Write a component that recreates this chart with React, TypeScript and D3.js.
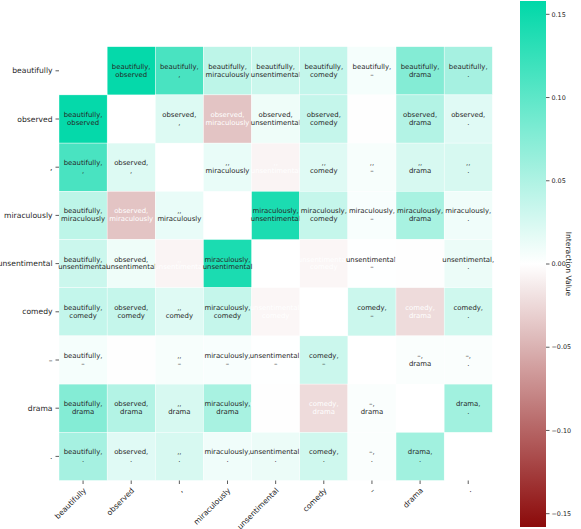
import React from "react";
import * as d3 from "d3";

const tokens = ["beautifully", "observed", ",", "miraculously", "unsentimental", "comedy", "–", "drama", "."];

// symmetric interaction matrix (null on the diagonal)
const row0 = [null, 0.155, 0.113, 0.041, 0.032, 0.037, 0.006, 0.076, 0.055];
const row1 = [0.155, null, 0.021, -0.038, 0.010, 0.036, -0.0008, 0.047, 0.019];
const row2 = [0.113, 0.021, null, 0.0136, -0.007, 0.020, 0.005, 0.025, 0.025];
const row3 = [0.041, -0.038, 0.0136, null, 0.141, 0.036, 0.0045, 0.054, 0.0093];
const row4 = [0.032, 0.010, -0.007, 0.141, null, -0.006, 0.0008, -0.0008, 0.012];
const row5 = [0.037, 0.036, 0.020, 0.036, -0.006, null, 0.032, -0.023, 0.030];
const row6 = [0.006, -0.0008, 0.005, 0.0045, 0.0008, 0.032, null, 0.003, 0.003];
const row7 = [0.076, 0.047, 0.025, 0.054, -0.0008, -0.023, 0.003, null, 0.058];
const row8 = [0.055, 0.019, 0.025, 0.0093, 0.012, 0.030, 0.003, 0.058, null];
const matrix = [row0, row1, row2, row3, row4, row5, row6, row7, row8];

const colorbarTicks = [0.15, 0.1, 0.05, 0, -0.05, -0.1, -0.15];
const vmax = 0.158;

const W = 581;
const H = 529;
const FONT = "DejaVu Sans";

export default function App() {
  const x = d3.scaleBand<string>().domain(tokens).range([59, 492.3]);
  const y = d3.scaleBand<string>().domain(tokens).range([46.7, 480.5]);
  const color = d3
    .scaleLinear<string>()
    .domain([-vmax, 0, vmax])
    .range(["#8b0a0a", "#ffffff", "#00d8a8"])
    .interpolate(d3.interpolateRgb);
  const cbY = d3.scaleLinear().domain([vmax, -vmax]).range([1, 527]);
  const fmt = d3.format(".2f");
  const bw = x.bandwidth();
  const bh = y.bandwidth();

  const cells: any[] = [];
  matrix.forEach((row, i) => {
    row.forEach((v, j) => {
      if (v === null) return;
      const a = tokens[Math.min(i, j)];
      const b = tokens[Math.max(i, j)];
      const cx = (x(tokens[j]) as number) + bw / 2;
      const cy = (y(tokens[i]) as number) + bh / 2;
      const tc = (v as number) < 0 ? "#ffffff" : "#262626";
      cells.push(
        <g key={`${i}-${j}`}>
          <rect
            x={x(tokens[j])}
            y={y(tokens[i])}
            width={bw}
            height={bh}
            fill={color(v as number)}
            stroke="#ffffff"
            strokeWidth={0.4}
          />
          <text x={cx} y={cy - 2.1} textAnchor="middle" fontSize={6.9} fill={tc} fontFamily={FONT}>
            {`${a},`}
          </text>
          <text x={cx} y={cy + 5.7} textAnchor="middle" fontSize={6.9} fill={tc} fontFamily={FONT}>
            {b}
          </text>
        </g>
      );
    });
  });

  const stops = d3.range(0, 1.0001, 0.05).map((t) => ({
    offset: t,
    c: color(vmax - t * 2 * vmax),
  }));

  return (
    <svg
      width={W}
      height={H}
      style={{ position: "fixed", left: 0, top: 0, background: "#fff" }}
      fontFamily={FONT}
    >
      <defs>
        <linearGradient id="cbar" x1="0" y1="0" x2="0" y2="1">
          {stops.map((s, k) => (
            <stop key={k} offset={s.offset} stopColor={s.c} />
          ))}
        </linearGradient>
      </defs>
      <rect x={0} y={0} width={W} height={H} fill="#fff" />
      {cells}
      {/* y axis */}
      {tokens.map((t) => {
        const cy = (y(t) as number) + bh / 2;
        return (
          <g key={"y" + t}>
            <line x1={55.5} x2={59} y1={cy} y2={cy} stroke="#333" strokeWidth={0.8} />
            <text x={52.5} y={cy} dy="0.35em" textAnchor="end" fontSize={7.6} fill="#262626">
              {t}
            </text>
          </g>
        );
      })}
      {/* x axis */}
      {tokens.map((t) => {
        const cx = (x(t) as number) + bw / 2;
        return (
          <g key={"x" + t}>
            <line x1={cx} x2={cx} y1={480.5} y2={484} stroke="#333" strokeWidth={0.8} />
            <text
              transform={`translate(${cx + 3.5},${491}) rotate(-45)`}
              textAnchor="end"
              fontSize={7.6}
              fill="#262626"
            >
              {t}
            </text>
          </g>
        );
      })}
      {/* colorbar */}
      <rect x={520} y={1} width={26} height={526} fill="url(#cbar)" />
      {colorbarTicks.map((v) => (
        <g key={"cb" + v}>
          <line x1={546} x2={549.5} y1={cbY(v)} y2={cbY(v)} stroke="#333" strokeWidth={0.8} />
          <text x={551.5} y={cbY(v)} dy="0.35em" fontSize={6.4} fill="#262626">
            {fmt(v)}
          </text>
        </g>
      ))}
      <text
        transform={`translate(565.5,264) rotate(90)`}
        textAnchor="middle"
        fontSize={7.6}
        fill="#262626"
      >
        Interaction Value
      </text>
    </svg>
  );
}
